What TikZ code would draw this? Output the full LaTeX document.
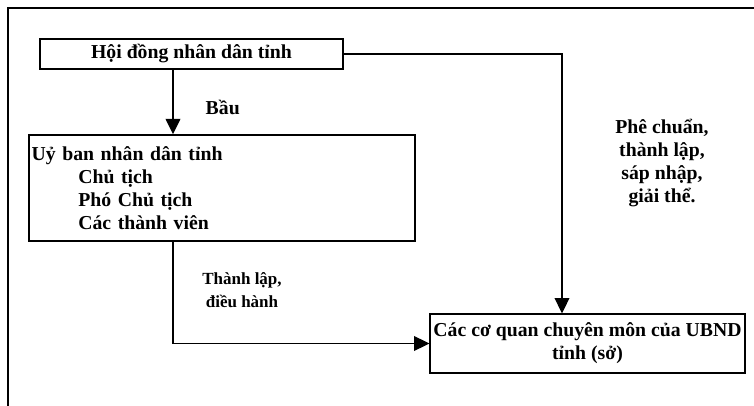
\documentclass[tikz,border=0pt]{standalone}
\usepackage{fontspec}
\setmainfont{Liberation Serif}
\usetikzlibrary{arrows.meta,positioning}

\begin{document}
\begin{tikzpicture}[
  x=0.75pt, y=-0.75pt,
  line width=1.1pt,
  box/.style={draw,line width=1.1pt,font=\bfseries\fontsize{14.8}{17.25}\selectfont,inner sep=2pt},
  lbl/.style={font=\bfseries\fontsize{14.8}{17.25}\selectfont,align=center,inner sep=0pt},
  smalllbl/.style={font=\bfseries\fontsize{12.75}{17.25}\selectfont,align=center,inner sep=0pt},
  >={Triangle[length=11.5pt,width=11pt]}
]
\useasboundingbox (0,0) rectangle (754,406);
% outer frame
\draw[line width=1.3pt] (8,406) -- (8,8) -- (754,8);

\node[box, minimum width=227pt, minimum height=22.5pt] (hdnd) at (191.5,54) {Hội đồng nhân dân tỉnh};
\node[box, minimum height=79.5pt, text width=285.5pt, align=left] (ubnd) at (222,188)
  {Uỷ ban nhân dân tỉnh\\ \hspace*{35pt}Chủ tịch\\ \hspace*{35pt}Phó Chủ tịch\\ \hspace*{35pt}Các thành viên};
\node[box, minimum width=236pt, minimum height=44pt, align=center, inner sep=1pt] (cqcm) at (587.5,343.5)
  {Các cơ quan chuyên môn của UBND\\tỉnh (sở)};

\coordinate (spine) at (173,0);
\coordinate (drop) at (562,0);

\node[lbl, anchor=base west] (bau) at (205,115) {Bầu};
\node[smalllbl] (tldh) at (242,290) {Thành lập,\\điều hành};
\node[lbl] (pchn) at (662,163) {Phê chuẩn,\\thành lập,\\sáp nhập,\\giải thể.};

\draw[->] (hdnd.south -| spine) -- (ubnd.north -| spine);
\draw[->] (ubnd.south -| spine) |- (cqcm.west);
\draw[->] (hdnd.east) -| (drop |- cqcm.north);
\end{tikzpicture}
\end{document}
